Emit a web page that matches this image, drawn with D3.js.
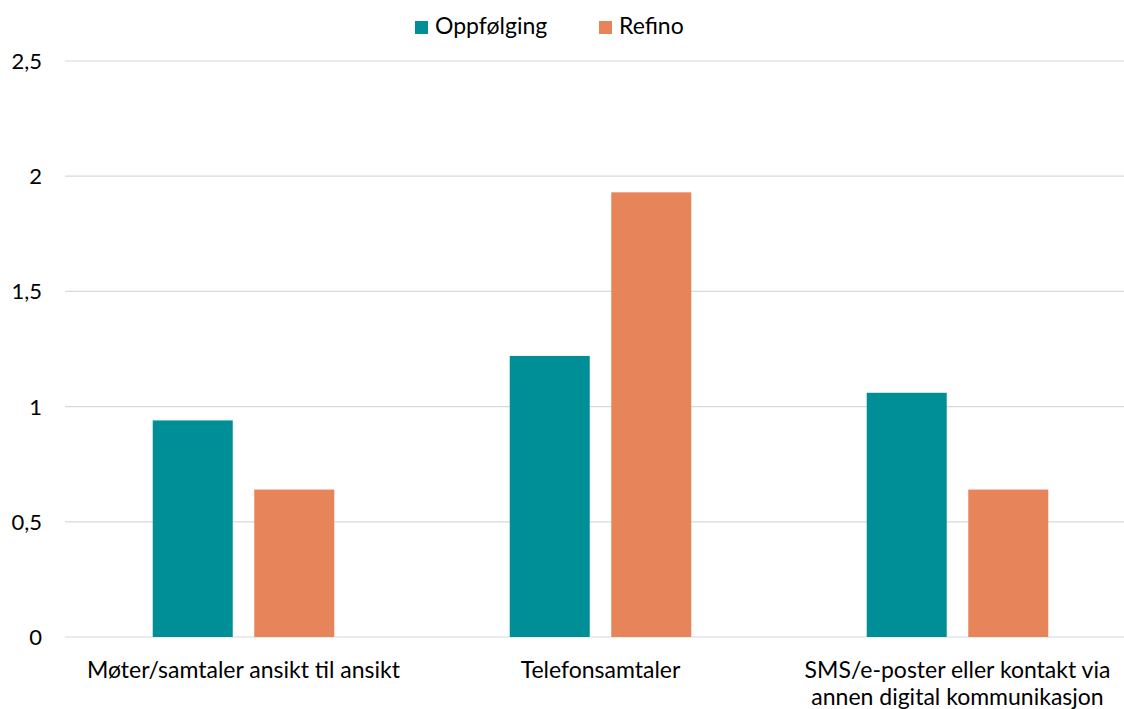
<!DOCTYPE html>
<html>
<head>
<meta charset="utf-8">
<script src="https://cdn.jsdelivr.net/npm/d3@7"></script>
<style>
  html, body { margin: 0; padding: 0; background: #fff; overflow: hidden; }
  svg { display: block; font-family: Lato, "Open Sans", sans-serif; }
</style>
</head>
<body>
<svg id="chart" width="1124" height="709"></svg>
<script>
// Categories and series
const categories = [
  "Møter/samtaler ansikt til ansikt",
  "Telefonsamtaler",
  "SMS/e-poster eller kontakt via annen digital kommunikasjon"
];
const categoryLines = [
  ["Møter/samtaler ansikt til ansikt"],
  ["Telefonsamtaler"],
  ["SMS/e-poster eller kontakt via", "annen digital kommunikasjon"]
];
const seriesNames = ["Oppfølging", "Refino"];
const oppfolging = [0.94, 1.22, 1.06];
const refino = [0.64, 1.93, 0.64];
const yTicks = [0, 0.5, 1, 1.5, 2, 2.5];
const colors = ["#008f96", "#e8845a"];

const svg = d3.select("#chart");
const margin = { left: 65, right: 1136, top: 61, bottom: 637 };

const x = d3.scaleBand().domain(categories).range([margin.left, margin.right]).paddingInner(0).paddingOuter(0);
const y = d3.scaleLinear().domain([0, 2.5]).range([margin.bottom, margin.top]);
const xs = d3.scaleBand().domain(seriesNames).range([0, x.bandwidth()]).paddingInner(0.212).paddingOuter(0.864);

// Gridlines
svg.append("g").selectAll("line").data(yTicks).join("line")
  .attr("x1", margin.left).attr("x2", margin.right)
  .attr("y1", d => y(d)).attr("y2", d => y(d))
  .attr("stroke", "#d9d9d9").attr("stroke-width", 1.2);

// Y axis labels
const fmt = d => d3.format("")(d).replace(".", ",");
svg.append("g").selectAll("text").data(yTicks).join("text")
  .attr("x", 42).attr("y", d => y(d)).attr("dy", "0.36em")
  .attr("text-anchor", "end").attr("font-size", 22).attr("fill", "#000")
  .text(fmt);

// Bars
const rows = categories.map((c, i) => ({ cat: c, values: [oppfolging[i], refino[i]] }));
const groups = svg.append("g").selectAll("g").data(rows).join("g")
  .attr("transform", d => `translate(${x(d.cat)},0)`);
groups.selectAll("rect").data(d => d.values.map((v, j) => ({ name: seriesNames[j], v, j })))
  .join("rect")
  .attr("x", d => xs(d.name))
  .attr("width", xs.bandwidth())
  .attr("y", d => y(d.v))
  .attr("height", d => y(0) - y(d.v))
  .attr("fill", d => colors[d.j]);

// Category labels
const labels = svg.append("g").selectAll("text").data(categories).join("text")
  .attr("text-anchor", "middle").attr("font-size", 23).attr("fill", "#000");
labels.each(function (d, i) {
  const t = d3.select(this);
  categoryLines[i].forEach((line, k) => {
    t.append("tspan").attr("x", x(d) + x.bandwidth() / 2).attr("y", 677.5 + k * 27.5).text(line);
  });
});

// Legend
const legend = svg.append("g");
const legendX = [415, 599];
seriesNames.forEach((s, i) => {
  legend.append("rect").attr("x", legendX[i]).attr("y", 21).attr("width", 13).attr("height", 13).attr("fill", colors[i]);
  legend.append("text").attr("x", legendX[i] + 20).attr("y", 33.5)
    .attr("font-size", 23).attr("fill", "#000").text(s);
});
</script>
</body>
</html>
